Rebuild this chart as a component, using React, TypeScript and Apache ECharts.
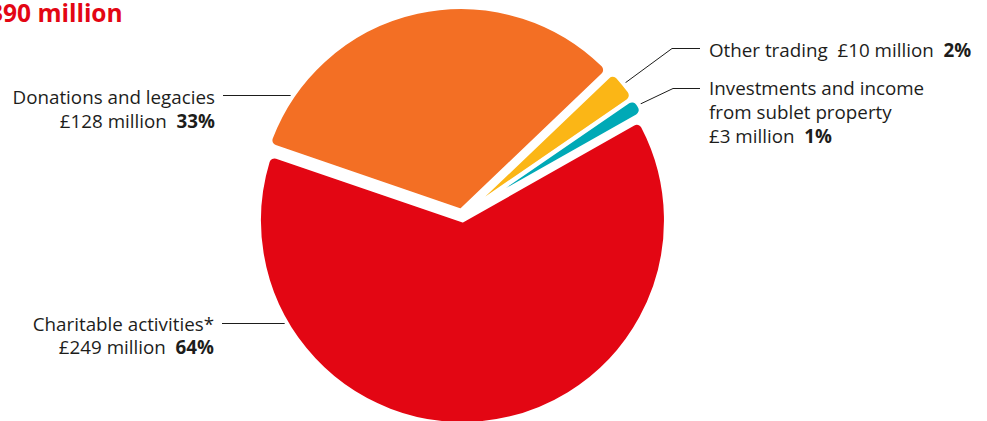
import React, { useEffect, useRef } from 'react';
import * as echarts from 'echarts';

// ---- data ----
const categories = [
  'Charitable activities*',
  'Donations and legacies',
  'Other trading',
  'Investments and income\nfrom sublet property',
];
const valuesMillion = [249, 128, 10, 3];
const percents = [64, 33, 2, 1];
const totalLabel = '£390 million';

// ---- style / layout ----
const colors = ['#e30613', '#f36f24', '#fbb616', '#00a9b6'];
const W = 987;
const H = 421;
const FONT = '"Open Sans", Lato, sans-serif';
const TEXT = '#1d1d1b';
const CENTER: [number, number] = [462, 215.5];
const RADIUS = 203.5;
const OFFSET = 5;
const BORDER = 4;
const START = 29.5;
const MIN_ANGLE = 5;
const FONT_SIZE = 18.8;
// label anchor: side, text edge x, first-line centre y, line height, line y
const labelPlacement = [
  { side: 'left', x: 214, y: 323.5, lh: 23.5, ly: 323.5 },
  { side: 'left', x: 215, y: 97, lh: 23.5, ly: 95.5 },
  { side: 'right', x: 709, y: 50.3, lh: 24, ly: 48.5, elbow: 672 },
  { side: 'right', x: 709, y: 88.3, lh: 24, ly: 88.5, elbow: 673 },
];

function sliceMids(): number[] {
  const sum = valuesMillion.reduce((a, b) => a + b, 0);
  let rest = 360;
  let larger = 0;
  const small = valuesMillion.map((v) => {
    const a = (v / sum) * 360;
    if (a < MIN_ANGLE) {
      rest -= MIN_ANGLE;
      return true;
    }
    larger += v;
    return false;
  });
  const angles = valuesMillion.map((v, i) => (small[i] ? MIN_ANGLE : (v / larger) * rest));
  const mids: number[] = [];
  let cur = START;
  angles.forEach((a) => {
    mids.push(cur - a / 2);
    cur -= a;
  });
  return mids;
}

export default function App() {
  const ref = useRef<HTMLDivElement>(null);
  useEffect(() => {
    document.body.style.margin = '0';
    const chart = echarts.init(ref.current!, null, { renderer: 'svg' });
    const mids = sliceMids();
    const rv = RADIUS - BORDER / 2;
    const sliceCenter = (i: number) => {
      const m = (mids[i] * Math.PI) / 180;
      return [CENTER[0] + OFFSET * Math.cos(m), CENTER[1] - OFFSET * Math.sin(m)];
    };

    const graphics: any[] = [];
    categories.forEach((name, i) => {
      const pl: any = labelPlacement[i];
      const left = pl.side === 'left';
      const base = { fontFamily: FONT, fontSize: FONT_SIZE, fill: TEXT, lineHeight: pl.lh };
      const rich = {
        n: { ...base, align: left ? 'right' : 'left' },
        b: { ...base, fontWeight: 'bold', align: left ? 'right' : 'left' },
      };
      const money = `£${valuesMillion[i]} million  `;
      let text: string;
      if (!name.includes('\n') && !left) {
        text = `{n|${name}  ${money}}{b|${percents[i]}%}`;
      } else {
        text = [...name.split('\n').map((s) => `{n|${s}}`), `{n|${money}}{b|${percents[i]}%}`].join('\n');
      }
      graphics.push({
        type: 'text',
        x: pl.x,
        y: pl.y - pl.lh / 2,
        silent: true,
        style: {
          text,
          rich,
          fontFamily: FONT,
          fontSize: FONT_SIZE,
          fill: TEXT,
          align: left ? 'right' : 'left',
          verticalAlign: 'top',
        },
      });

      const sc = sliceCenter(i);
      let pts: number[][];
      if (left) {
        const dy = pl.ly - sc[1];
        const xArc = sc[0] - Math.sqrt(Math.max(0, rv * rv - dy * dy)) + 1;
        pts = [
          [pl.x + 8, pl.ly],
          [xArc, pl.ly],
        ];
      } else {
        const m = (mids[i] * Math.PI) / 180;
        const p0 = [sc[0] + (rv + 4) * Math.cos(m), sc[1] - (rv + 4) * Math.sin(m)];
        pts = [p0, [pl.elbow, pl.ly], [pl.x - 9, pl.ly]];
      }
      graphics.push({
        type: 'polyline',
        silent: true,
        shape: { points: pts },
        style: { stroke: TEXT, lineWidth: 1, fill: null },
      });
    });

    chart.setOption({
      animation: false,
      backgroundColor: '#ffffff',
      title: {
        text: totalLabel,
        left: -25,
        top: 0,
        padding: 0,
        textStyle: { color: '#e30613', fontFamily: FONT, fontWeight: 'bold', fontSize: 24.5 },
      },
      graphic: graphics,
      series: [
        {
          type: 'pie',
          center: CENTER,
          radius: RADIUS,
          startAngle: START,
          clockwise: true,
          minAngle: MIN_ANGLE,
          selectedMode: 'multiple',
          selectedOffset: OFFSET,
          avoidLabelOverlap: false,
          silent: true,
          emphasis: { disabled: true },
          itemStyle: { borderColor: '#ffffff', borderWidth: BORDER, borderRadius: 7 },
          select: { itemStyle: { borderColor: '#ffffff', borderWidth: BORDER } },
          label: { show: false },
          labelLine: { show: false },
          data: categories.map((name, i) => ({
            name: name.replace('\n', ' '),
            value: valuesMillion[i],
            selected: true,
            itemStyle: { color: colors[i] },
          })),
        },
      ],
    });
    return () => chart.dispose();
  }, []);
  return <div ref={ref} style={{ position: 'absolute', left: 0, top: 0, width: W, height: H }} />;
}
